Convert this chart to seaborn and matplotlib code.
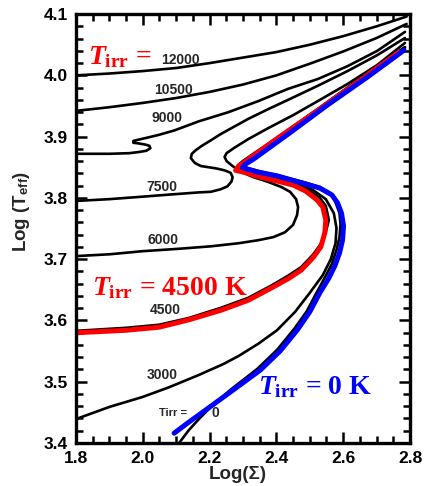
import matplotlib
matplotlib.use("Agg")
import matplotlib.pyplot as plt
import seaborn as sns
import pandas as pd
from matplotlib.ticker import MultipleLocator

# S-curves: log(Sigma), log(Teff) for each irradiation temperature
tirr = ["12000", "10500", "9000", "7500", "6000", "4500", "3000", "0"]

s_12000 = [1.80, 1.90, 2.00, 2.10, 2.20, 2.30, 2.40, 2.50, 2.60, 2.70, 2.79]
t_12000 = [4.000, 4.003, 4.007, 4.012, 4.020, 4.029, 4.038, 4.050, 4.064, 4.080, 4.096]

s_10500 = [1.80, 1.90, 2.00, 2.10, 2.20, 2.30, 2.40, 2.50, 2.60, 2.70, 2.79]
t_10500 = [3.942, 3.948, 3.955, 3.963, 3.973, 3.985, 4.000, 4.019, 4.039, 4.061, 4.084]

s_9000 = [1.800, 1.901, 1.960, 1.990, 2.011, 2.023, 2.020, 2.008, 1.987, 1.972,
          1.972, 1.987, 2.011, 2.049, 2.094, 2.168, 2.257, 2.346, 2.435, 2.524,
          2.613, 2.702, 2.785]
t_9000 = [3.872, 3.872, 3.873, 3.875, 3.877, 3.881, 3.885, 3.887, 3.889, 3.890,
          3.893, 3.895, 3.898, 3.903, 3.910, 3.925, 3.940, 3.958, 3.978, 3.994,
          4.015, 4.040, 4.071]

s_7500 = [1.800, 1.901, 1.999, 2.094, 2.168, 2.204, 2.233, 2.254, 2.266, 2.269,
          2.263, 2.245, 2.221, 2.198, 2.174, 2.156, 2.144, 2.147, 2.159, 2.177,
          2.204, 2.233, 2.266, 2.316, 2.376, 2.435, 2.524, 2.613, 2.702, 2.785]
t_7500 = [3.795, 3.798, 3.802, 3.806, 3.809, 3.810, 3.814, 3.819, 3.827, 3.834,
          3.841, 3.845, 3.848, 3.850, 3.852, 3.857, 3.865, 3.872, 3.878, 3.885,
          3.894, 3.904, 3.914, 3.929, 3.945, 3.960, 3.983, 4.007, 4.033, 4.061]

s_6000 = [1.800, 1.901, 1.999, 2.109, 2.204, 2.287, 2.346, 2.391, 2.426, 2.450,
          2.462, 2.465, 2.459, 2.441, 2.414, 2.376, 2.331, 2.296, 2.269, 2.251,
          2.245, 2.251, 2.272, 2.316, 2.376, 2.450, 2.524, 2.613, 2.702, 2.785]
t_6000 = [3.705, 3.708, 3.713, 3.717, 3.721, 3.726, 3.731, 3.736, 3.744, 3.756,
          3.772, 3.785, 3.798, 3.810, 3.818, 3.826, 3.834, 3.842, 3.852, 3.860,
          3.867, 3.873, 3.881, 3.896, 3.914, 3.935, 3.958, 3.986, 4.017, 4.053]

s_4500 = [1.800, 1.951, 2.049, 2.138, 2.236, 2.316, 2.385, 2.435, 2.474, 2.509,
          2.533, 2.548, 2.557, 2.548, 2.530, 2.494, 2.450, 2.399, 2.352, 2.310,
          2.284, 2.293, 2.322, 2.405, 2.524, 2.643, 2.785]
t_4500 = [3.583, 3.588, 3.593, 3.604, 3.621, 3.637, 3.657, 3.673, 3.687, 3.707,
          3.725, 3.744, 3.764, 3.787, 3.800, 3.814, 3.824, 3.831, 3.837, 3.844,
          3.849, 3.855, 3.867, 3.899, 3.945, 3.992, 4.046]

s_3000 = [1.800, 1.901, 1.999, 2.079, 2.168, 2.242, 2.287, 2.346, 2.402, 2.456,
          2.500, 2.539, 2.563, 2.577, 2.580, 2.572, 2.548, 2.509, 2.459, 2.399,
          2.340, 2.301, 2.287, 2.299, 2.331, 2.405, 2.524, 2.643, 2.785]
t_3000 = [3.439, 3.459, 3.475, 3.491, 3.511, 3.529, 3.542, 3.562, 3.584, 3.614,
          3.645, 3.674, 3.700, 3.726, 3.751, 3.775, 3.798, 3.813, 3.824, 3.834,
          3.842, 3.849, 3.854, 3.860, 3.872, 3.899, 3.945, 3.991, 4.046]

s_0 = [2.109, 2.138, 2.168, 2.204, 2.263, 2.343, 2.402, 2.453, 2.491, 2.521,
       2.548, 2.566, 2.580, 2.589, 2.592, 2.589, 2.577, 2.566, 2.530, 2.480,
       2.402, 2.346, 2.313, 2.299, 2.307, 2.331, 2.435, 2.554, 2.672, 2.785]
t_0 = [3.400, 3.421, 3.439, 3.459, 3.487, 3.521, 3.552, 3.586, 3.615, 3.646,
       3.673, 3.692, 3.715, 3.736, 3.757, 3.775, 3.793, 3.806, 3.818, 3.826,
       3.837, 3.844, 3.849, 3.852, 3.857, 3.865, 3.906, 3.953, 3.999, 4.043]

# coloured overlays
s_red = [1.803, 1.951, 2.049, 2.138, 2.236, 2.316, 2.385, 2.435, 2.474, 2.509,
         2.533, 2.545, 2.548, 2.539, 2.521, 2.488, 2.450, 2.399, 2.352, 2.310,
         2.278, 2.287, 2.316, 2.405, 2.524, 2.643, 2.767]
t_red = [3.580, 3.584, 3.589, 3.601, 3.617, 3.633, 3.653, 3.668, 3.682, 3.702,
         3.720, 3.743, 3.764, 3.785, 3.797, 3.811, 3.821, 3.828, 3.834, 3.841,
         3.845, 3.852, 3.863, 3.898, 3.943, 3.989, 4.038]

s_blue = [2.094, 2.138, 2.204, 2.272, 2.352, 2.411, 2.462, 2.500, 2.530, 2.557,
          2.575, 2.589, 2.598, 2.601, 2.595, 2.583, 2.566, 2.530, 2.480, 2.402,
          2.346, 2.313, 2.299, 2.307, 2.331, 2.435, 2.554, 2.672, 2.782]
t_blue = [3.416, 3.434, 3.460, 3.487, 3.519, 3.550, 3.584, 3.614, 3.645, 3.669,
          3.689, 3.710, 3.731, 3.754, 3.775, 3.792, 3.805, 3.816, 3.824, 3.836,
          3.842, 3.847, 3.850, 3.855, 3.863, 3.904, 3.952, 3.997, 4.041]

curves = {
    "12000": (s_12000, t_12000), "10500": (s_10500, t_10500),
    "9000": (s_9000, t_9000), "7500": (s_7500, t_7500),
    "6000": (s_6000, t_6000), "4500": (s_4500, t_4500),
    "3000": (s_3000, t_3000), "0": (s_0, t_0),
}

sns.set_style("ticks")
plt.rcParams["font.family"] = ["Liberation Sans", "DejaVu Sans"]
plt.rcParams["font.weight"] = "bold"
plt.rcParams["mathtext.fontset"] = "custom"
plt.rcParams["mathtext.rm"] = "Liberation Serif:weight=bold"
plt.rcParams["mathtext.it"] = "Liberation Serif:style=italic:weight=bold"
plt.rcParams["mathtext.bf"] = "Liberation Serif:weight=bold"
plt.rcParams["mathtext.sf"] = "Liberation Sans:weight=bold"

fig = plt.figure(figsize=(4.24, 4.86), dpi=100)
ax = fig.add_axes([0.179, 0.0885, 0.788, 0.8825])

for name in tirr:
    s, t = curves[name]
    df = pd.DataFrame({"logS": s, "logT": t})
    sns.lineplot(data=df, x="logS", y="logT", sort=False, estimator=None,
                 color="black", lw=1.9, ax=ax)

df_red = pd.DataFrame({"logS": s_red, "logT": t_red})
sns.lineplot(data=df_red, x="logS", y="logT", sort=False, estimator=None,
             color="#ff0000", lw=3.6, ax=ax)
df_blue = pd.DataFrame({"logS": s_blue, "logT": t_blue})
sns.lineplot(data=df_blue, x="logS", y="logT", sort=False, estimator=None,
             color="#0000ff", lw=3.6, ax=ax)
for ln in ax.lines:
    ln.set_solid_joinstyle("round")
    ln.set_solid_capstyle("round")

ax.set_xlim(1.8, 2.8)
ax.set_ylim(3.4, 4.1)
ax.xaxis.set_major_locator(MultipleLocator(0.2))
ax.xaxis.set_minor_locator(MultipleLocator(0.05))
ax.yaxis.set_major_locator(MultipleLocator(0.1))
ax.yaxis.set_minor_locator(MultipleLocator(0.02))
ax.xaxis.set_major_formatter(plt.FormatStrFormatter("%.1f"))
ax.yaxis.set_major_formatter(plt.FormatStrFormatter("%.1f"))
ax.tick_params(which="both", direction="in", top=True, right=True, width=1.8,
               labelsize=12.5, colors="black")
ax.tick_params(which="major", length=8, pad=6)
ax.tick_params(which="minor", length=5)
for sp in ax.spines.values():
    sp.set_linewidth(2.4)
    sp.set_color("black")
ax.set_xlabel("")
ax.set_ylabel("")

fig.text(0.56, 0.024, "Log(Σ)", ha="center", va="center", fontsize=13.5, fontweight="bold")
fig.text(0.05, 0.565, r"Log (T$_{\mathsf{eff}}$)", ha="center", va="center",
         rotation=90, fontsize=13.5, fontweight="bold")

# curve labels
label_text = ["12000", "10500", "9000", "7500", "6000", "4500", "3000"]
label_s = [2.055, 2.034, 2.026, 2.011, 2.014, 2.020, 2.011]
label_t = [4.025, 3.976, 3.930, 3.818, 3.731, 3.617, 3.511]
for txt, xs, yt in zip(label_text, label_s, label_t):
    ax.text(xs, yt, txt, ha="left", va="center", fontsize=10, fontweight="bold")
ax.text(2.049, 3.449, "Tirr =", ha="left", va="center", fontsize=8, fontweight="bold")
ax.text(2.205, 3.449, "0", ha="left", va="center", fontsize=10, fontweight="bold")

serif = ["Liberation Serif", "DejaVu Serif"]
ax.text(1.835, 4.030, r"$T_{\mathrm{irr}}$ =", color="#ff0000", ha="left", va="center",
        fontsize=20, fontweight="bold", family=serif)
ax.text(1.847, 3.653, r"$T_{\mathrm{irr}}$ = 4500 K", color="#ff0000", ha="left",
        va="center", fontsize=20, fontweight="bold", family=serif)
ax.text(2.346, 3.491, r"$T_{\mathrm{irr}}$ = 0 K", color="#0000ff", ha="left",
        va="center", fontsize=20, fontweight="bold", family=serif)

fig.savefig("out.png", dpi=100, facecolor="white")
